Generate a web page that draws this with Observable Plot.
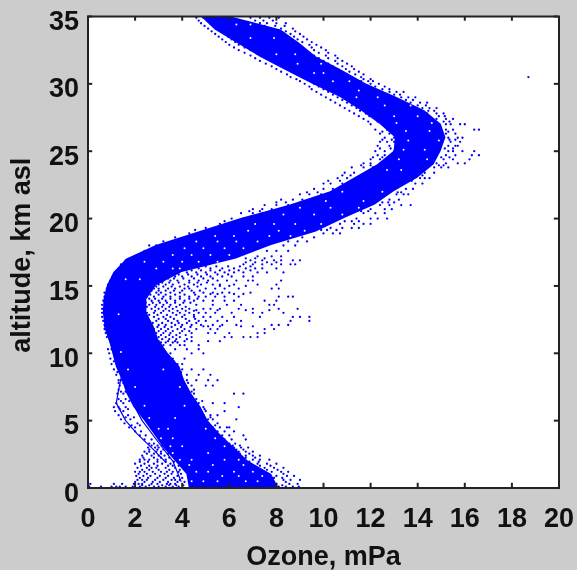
<!DOCTYPE html>
<html><head><meta charset="utf-8">
<script src="https://cdn.jsdelivr.net/npm/d3@7"></script>
<script src="https://cdn.jsdelivr.net/npm/@observablehq/plot@0.6"></script>
<style>html,body{margin:0;background:#cccccc;overflow:hidden}svg{display:block;filter:blur(0.35px)}</style>
</head><body><div id="chart"></div>
<script>
const altitudeKm = [0,1,2,3,4,5,6,7,8,9,10,11,12,13,14,15,16,17,18,19,20,21,22,23,24,25,26,27,28,29,30,31,32,33,34,35];
const denseLeft  = [4.3,4.2,3.7,3.2,2.8,2.4,1.95,1.65,1.45,1.2,1.05,0.9,0.72,0.65,0.68,0.82,1.1,1.65,2.9,4.7,6.5,8.6,10.3,11.3,12.3,13.0,13.05,12.4,11.6,10.7,9.5,8.4,7.3,6.35,5.4,4.8];
const denseRight = [8.1,7.8,6.8,6.2,5.6,5.1,4.8,4.4,4.1,3.9,3.4,3.0,2.8,2.5,2.5,2.9,4.0,6.3,7.8,9.7,10.9,12.2,13.0,14.0,14.7,15.0,15.2,15.0,14.3,13.1,11.8,10.8,9.7,9.0,8.2,6.0];

// readings of isolated points: [altitude, [ozone values at that altitude]]
const lowerRows = [
 [0.1,[0.05,0.55,1.0,1.2,1.35,1.6,1.9,2.2,2.45,2.8,3.0,3.3,3.6,3.85,8.1,8.4,8.7,8.95]],
 [0.3,[0.1,1.1,1.45,1.95,2.15,2.3,2.7,2.95,3.35,3.5,3.7,8.0,8.55,8.9]],
 [0.6,[2.1,2.3,2.5,2.85,3.2,3.55,3.7,3.9,8.3,8.6,9.0]],
 [0.9,[2.05,2.35,2.65,3.05,3.4,3.8,8.0,8.45,8.75]],
 [1.2,[2.0,2.2,2.4,2.75,3.1,3.35,3.6,3.85,7.8,8.2,8.5]],
 [1.5,[2.1,2.5,2.7,2.9,3.3,3.7,7.5,7.9,8.3]],
 [1.8,[2.0,2.4,2.8,3.15,3.5,7.2,7.6,8.0]],
 [2.1,[2.2,2.4,2.6,2.95,3.3,7.0,7.3,7.7]],
 [2.4,[2.3,2.7,3.0,3.25,6.7,7.0,7.3]],
 [2.7,[2.4,2.6,2.9,3.1,6.4,6.7,7.0]],
 [3.0,[2.55,2.85,3.0,6.2,6.5,6.8]],
 [3.3,[2.6,2.8,6.0,6.25]],
 [3.6,[2.4,2.7,5.8,6.1,6.7]],
 [3.9,[2.2,2.45,5.7,6.0,6.6]],
 [4.2,[2.0,2.25,5.5,5.8,6.2]],
 [4.5,[1.75,2.0,5.3,5.6,5.9,6.0]],
 [4.8,[1.55,2.1,5.1,5.5]],
 [5.1,[1.4,1.8,5.1,5.3,6.3]],
 [5.4,[1.3,1.7,4.9,5.2,5.5]],
 [5.7,[1.15,1.5,4.7,5.0,5.8]],
 [6.0,[1.1,1.3,1.6,4.6,4.9,6.4]],
 [6.3,[1.2,1.5,4.4,4.7,5.3,5.8]],
 [6.6,[1.3,1.6,4.3,4.6]],
 [7.0,[1.25,1.5,4.3,4.5,6.2,6.6]],
 [7.3,[1.3,1.7,4.2,4.5]],
 [7.6,[1.35,1.6,4.1,4.4,5.0,5.3]],
 [8.0,[1.4,1.3,4.0,4.2,4.6,5.1,5.5]],
 [8.4,[1.2,1.5,3.8,4.2,4.7,5.2]],
 [8.8,[1.1,1.4,3.7,4.0,4.4,4.9]],
 [9.2,[1.0,1.3,3.5,3.8,4.0]],
 [9.6,[0.95,1.2,3.3,3.6,4.1]],
 [10,[0.9,1.1,3.3,3.5,4.4,4.9]],
 [10.3,[0.85,1.0,3.2,3.7,4.2,4.7]]
];
const laceRows = [
 [0.2,[2.3,2.6,3.15,3.45,3.75,4.05,7.9,8.25]],[0.45,[2.0,2.4,2.75,3.05,3.4,3.8,4.1,7.8,8.4]],[0.75,[2.2,2.55,2.95,3.3,3.65,4.0,7.9,8.25]],
 [1.05,[2.15,2.5,2.85,3.25,3.55,3.95,7.65,8.3]],[1.35,[2.3,2.6,3.0,3.45,3.9,4.1,7.6,8.05]],[1.65,[2.25,2.6,2.95,3.4,3.6,3.85,7.3,7.75]],
 [1.95,[2.2,2.55,2.95,3.3,3.65,6.85,7.25]],[2.25,[2.35,2.8,3.1,3.45,6.7,7.1]],[2.55,[2.5,2.8,3.1,3.4,6.45,6.85]],[2.85,[2.6,2.95,3.2,6.3,6.6]],[3.15,[2.7,2.95,3.15,6.15,6.45]],
 [4.65,[1.85,2.2,5.4]],[5.25,[1.6,1.95,5.2]],[5.85,[1.35,1.7,4.95]],[6.45,[1.4,1.75,4.5,4.85]],[7.15,[1.4,1.6,4.4]],[7.8,[1.3,1.5,4.25]],[8.6,[1.25,1.55,3.95]],[9.4,[1.1,1.3,3.65]]
];
const plumeRows = [
 [10.6,[2.9,3.2,3.5,3.9,4.1,4.7]],
 [10.9,[2.8,3.0,3.4,3.7,4.1,4.4,5.1,5.6]],
 [11.2,[0.8,2.6,3.0,3.3,3.6,3.9,4.4,5.8,6.1,6.6,6.9,7.2]],
 [11.5,[0.75,2.7,2.9,3.2,3.5,3.9,4.4,5.1,5.4,6.0,7.2,7.5]],
 [11.8,[0.7,2.4,2.8,3.1,3.4,3.8,4.1,4.6,5.2,5.5,7.5,7.9]],
 [12.1,[0.7,2.5,3.0,3.3,3.7,4.0,4.4,4.8,5.3,5.7,6.3,7.8,8.1,8.5]],
 [12.4,[0.65,2.6,2.9,3.4,3.8,4.3,4.7,5.0,5.5,5.9,6.5,9.4,8.6]],
 [12.7,[0.6,2.4,2.8,3.2,3.5,4.0,4.5,4.9,5.2,5.7,6.2,7.3,8.7,9.0,9.4]],
 [13.0,[0.6,2.1,2.5,2.8,3.1,3.6,3.9,4.3,4.7,5.0,5.4,6.1,7.0,7.4,8.3]],
 [13.3,[0.6,2.3,2.7,3.0,3.3,3.6,4.0,4.3,4.9,5.2,5.6,6.4,7.0,8.1,8.9]],
 [13.6,[0.6,2.2,2.6,2.9,3.2,3.5,3.9,4.6,5.3,5.9,6.5,7.7,7.9]],
 [13.9,[0.65,2.4,2.7,3.0,3.3,3.7,4.1,4.5,4.9,5.3,5.8,6.2,7.5,8.0]],
 [14.2,[0.7,2.5,2.8,3.2,3.5,3.9,4.3,4.7,5.0,5.4,5.8,6.4,8.1,8.5,8.7]],
 [14.5,[0.7,2.5,2.9,3.1,3.5,3.9,4.5,4.9,5.3,5.7,6.0,6.9]],
 [14.8,[0.8,2.8,3.0,3.4,3.7,4.1,4.3,5.0,5.4,5.8,6.4,7.8,8.1]],
 [15.1,[0.85,2.7,3.0,3.3,3.6,4.1,4.5,4.8,5.3,5.6,6.2,7.2,8.0]],
 [15.4,[0.95,2.9,3.2,3.5,3.8,4.3,4.7,5.1,5.5,5.9,6.3,6.8,7.0,8.2]],
 [15.7,[1.05,3.3,3.7,4.0,4.4,4.8,5.2,5.7,6.1,6.6,7.0]],
 [16.0,[1.2,4.2,4.6,5.0,5.4,5.8,6.2,6.6,7.2,7.6,8.3]],
 [16.3,[1.35,1.45,4.7,5.2,5.7,6.2,6.7,7.1,7.4,8.0]],
 [16.6,[1.4,1.6,6.6,7.0,7.4,7.8,8.2,8.6,8.8]],
 [16.9,[1.6,1.8,6.9,7.4,7.9,8.2,8.7,9.0]],
 [17.2,[2.0,2.3,7.2,7.8,8.2]],
 [17.6,[2.4,2.8,3.1,7.6,8.0,8.5]],
 [18.0,[2.6,2.9,8.3,8.8]],
 [18.3,[3.2,3.7,4.1,8.5,8.9,9.3]],
 [18.6,[3.7,4.2,4.6,9.1,9.6]]
];
const plumeInfill = [
 [10.8,[2.7,3.1,3.3,3.6,3.8]],[11.05,[2.5,2.8,3.15,3.45,3.75,4.2]],[11.35,[2.45,2.85,3.1,3.45,3.75,4.15]],[11.65,[2.3,2.6,3.0,3.3,3.6,4.0,4.3]],
 [11.95,[2.3,2.65,2.95,3.25,3.55,3.95,4.35]],[12.25,[2.3,2.75,3.15,3.55,3.85,4.2,4.6]],[12.55,[2.2,2.55,3.0,3.3,3.65,4.15,4.55]],[12.85,[2.2,2.6,2.95,3.35,3.75,4.1,4.5]],
 [13.15,[2.15,2.4,2.85,3.2,3.45,3.8,4.15,4.5]],[13.45,[2.1,2.5,2.85,3.15,3.45,3.75,4.15]],[13.75,[2.2,2.45,2.75,3.05,3.35,3.7,4.05,4.35]],[14.05,[2.3,2.6,2.85,3.15,3.5,3.9,4.3,4.65]],
 [14.35,[2.4,2.65,3.0,3.3,3.7,4.1,4.55]],[14.65,[2.5,2.7,3.0,3.3,3.65,4.0,4.4,4.75]],[14.95,[2.6,2.9,3.2,3.55,3.9,4.25,4.65]],[15.25,[2.7,2.9,3.15,3.45,3.85,4.3,4.65,5.05]],
 [15.55,[2.9,3.1,3.4,3.65,4.05,4.5,4.9,5.3]],[15.85,[3.0,3.25,3.55,3.85,4.25,4.65,5.05,5.5,5.95]],[16.15,[4.4,4.8,5.2,5.6,6.0,6.4,6.9]],[16.45,[4.6,5.0,5.45,5.95,6.45,6.9]],
 [16.75,[6.7,7.1,7.6,8.0]],[17.05,[6.7,7.1,7.5]],
 [12.0,[4.9,5.1,5.6,6.5,7.0]],[13.2,[4.6,5.5,6.7,7.7]],[14.4,[5.2,5.5,6.2,6.6]],[15.0,[5.6,6.0,6.7]]
];
const upperRows = [
 [18.9,[4.3,4.8,10.0,10.4,10.7]],
 [19.3,[5.0,5.4,5.9,10.3,10.8,11.2,11.5]],
 [19.6,[5.6,6.1,6.5,10.7,11.3,11.7,12.0]],
 [20.0,[6.1,6.6,7.0,11.4,12.0,12.3,12.7]],
 [20.4,[6.5,7.0,7.4,11.7,12.2,12.6]],
 [20.7,[7.0,7.4,7.8,12.0,12.6,12.9]],
 [21.0,[7.5,8.0,8.5,12.4,12.8,13.3,13.7]],
 [21.4,[8.2,8.7,9.1,12.8,13.2]],
 [21.8,[9.0,9.4,9.9,13.1,13.4,13.6]],
 [22.2,[9.6,10.0,10.4,10.9,13.5,13.8]],
 [22.6,[10.0,10.3,10.8,11.3,13.9,14.2]],
 [23.0,[10.6,11.0,11.5,14.1,14.5,14.3]],
 [23.4,[10.9,11.3,11.9,14.3,14.7]],
 [23.8,[11.2,11.7,12.1,14.7,15.0,15.3]],
 [24.1,[11.7,12.0,12.4,14.8,15.2,15.7,16.0]],
 [24.4,[12.0,12.4,12.7,15.1,15.5,16.2]],
 [24.7,[12.3,12.6,12.9,15.2,15.6,16.6,16.3]],
 [25.0,[12.2,12.6,13.0,15.3,15.5,16.4,15.9]],
 [25.4,[12.3,12.8,13.1,15.3,15.7,15.6]],
 [25.7,[12.4,12.7,13.0,15.4,15.8]],
 [26.0,[12.6,13.0,15.3,15.7,15.9]],
 [26.3,[12.4,12.8,15.2,15.6]],
 [26.6,[12.2,12.7,15.2,15.5,16.4,16.6]],
 [27.0,[12.0,12.5,14.9,15.4,15.2,16.0,15.8]],
 [27.4,[11.7,12.2,14.8,15.2,15.5]],
 [27.8,[11.3,11.8,14.4,14.8,15.1]],
 [28.2,[10.9,11.4,14.2,14.5,14.8]],
 [28.6,[10.5,11.0,13.7,14.1,14.4]],
 [29.0,[10.1,10.6,13.3,13.6,13.9]],
 [29.4,[9.7,10.2,12.8,13.1,13.4]],
 [29.8,[9.4,9.8,11.9,12.2,12.6]],
 [30.2,[9.0,9.5,11.6,11.9,12.1]],
 [30.5,[8.6,9.1,11.2,11.6,18.7]],
 [30.9,[8.2,8.7,10.7,11.1,11.5]],
 [31.3,[7.8,8.2,10.4,10.8,11.2]],
 [31.7,[7.3,7.8,10.0,10.5,10.8]],
 [32.1,[6.9,7.4,9.6,10.1,10.5]],
 [32.5,[6.4,6.9,9.2,9.6,10.1]],
 [32.9,[6.0,6.4,8.9,9.4,9.7]],
 [33.3,[5.7,6.1,8.5,8.9,9.3]],
 [33.7,[5.4,5.8,8.1,8.6,9.0]],
 [34.1,[5.1,5.5,7.7,8.2,8.7]],
 [34.5,[4.8,5.2,7.3,7.6,8.0,8.4]],
 [34.9,[4.6,4.9,6.9,7.3,7.7,8.1]]
];
const upperFringe = [
 [19.15,[4.55,5.1,9.9,10.15,10.55]],[19.8,[5.8,6.3,10.9,11.2,11.5]],[20.55,[6.85,7.3,11.3,11.6,11.9]],[21.2,[8.0,8.4,12.5,12.75,13.0]],[21.95,[9.3,9.75,13.15,13.3]],[22.8,[10.2,10.7,13.4,13.75]],[23.2,[10.8,11.15,14.2]],
 [23.95,[11.6,12.0,14.9,15.1]],[24.55,[12.1,12.5,15.0,15.35]],[25.2,[12.4,12.85,15.15,15.5]],[25.85,[12.5,12.9,15.35,15.6]],[26.45,[12.5,12.9,15.3]],[27.2,[11.9,12.3,15.1,15.35]],[27.6,[11.5,11.95,14.9,15.15]],[28.0,[11.1,11.55,14.45,14.7]],[28.4,[10.7,11.2,14.0,14.35]],
 [28.8,[10.3,10.8,13.5,13.8]],[29.2,[9.9,10.4,13.0,13.25]],[29.6,[9.5,10.0,12.5,12.8]],[30.0,[9.2,9.6,12.0,12.35]],[30.35,[8.85,9.3,11.7,12.0]],[30.7,[8.45,8.9,11.0,11.35,11.7]],[31.1,[8.0,8.45,10.6,10.95,11.3]],[31.5,[7.55,8.0,10.2,10.6,11.0]],
 [31.9,[7.1,7.55,9.8,10.2,10.6]],[32.3,[6.65,7.15,9.4,9.8,10.2]],[32.7,[6.2,6.65,9.1,9.5,9.9]],[33.1,[5.85,6.25,8.7,9.1,9.5]],[33.5,[5.55,5.95,8.3,8.75,9.15]],[33.9,[5.25,5.65,7.9,8.4,8.8]],[34.3,[4.95,5.35,7.5,7.95,8.35]],[34.7,[4.7,5.05,7.1,7.45,7.85]]
];
// white flecks left inside the dense band
const gapRows = [
 [0.5,[4.4,4.9,5.5,6.7,7.2]],[0.9,[5.7,6.4,7.4]],[1.2,[4.6,5.1,6.2,7.0]],[1.7,[4.3,5.3,6.6]],[2.1,[3.9,4.4,5.8,6.4]],[2.6,[3.6,5.1]],[3.1,[3.5,4.0,5.8]],[3.7,[3.1,3.6,5.4]],[4.4,[3.0,3.4,5.0]],[5.2,[2.6,3.7]],[6.1,[2.4,4.1]],[7.5,[2.0,3.9]],[8.8,[1.7,3.2]],
 [10.1,[1.4]],[12.9,[1.3]],[15.5,[1.6,2.2]],[16.3,[3.6,3.9,2.9]],[16.8,[3.2,4.0,4.7,5.5,2.4]],[17.3,[3.6,4.4,5.2,6.0]],[17.8,[4.1,4.9,5.8,6.6]],[18.3,[4.6,5.5,6.3,7.2]],[18.7,[5.4,6.2,7.7,8.6]],[19.1,[6.8,8.1,9.2]],[19.6,[7.1,7.9,8.8,9.9]],[20.3,[8.3,9.6,10.8]],[20.8,[9.0,10.3,11.5]],[21.3,[10.1,11.7]],[22.0,[10.8,12.5]],
 [23.6,[12.7,13.3]],[24.4,[13.2,14.4]],[25.1,[13.4,14.3]],[25.8,[13.6,14.9]],[26.5,[13.5,14.5]],[27.1,[13.1,14.6]],[27.6,[13.0,14.0]],[28.4,[12.6,13.7]],[29.0,[11.4,12.3]],[29.5,[11.5,12.6]],[30.2,[10.4,11.1]],[30.8,[9.6,10.0]],[31.5,[8.9,9.9]],[32.2,[8.0,8.8]],[33.4,[6.9,7.9]],[34.4,[6.3,6.9]]
];
// single soundings that stand apart from the band at low altitude
const traceOzone    = [0.7,0.9,1.15,1.45,1.3,1.2,1.6,2.1,2.75,3.3];
const traceAltitude = [12.0,11.0,9.8,8.5,7.3,6.3,5.0,4.0,2.9,1.9];
const trace2Ozone    = [0.95,1.25,1.6,1.9,2.3,2.9,3.6,3.95];
const trace2Altitude = [11.8,10.0,8.5,6.3,5.0,3.6,2.0,0.5];

const xTickValues = [0,2,4,6,8,10,12,14,16,18,20];
const yTickValues = [0,5,10,15,20,25,30,35];
const xTitle = "Ozone, mPa";
const yTitle = "altitude, km asl";

const spread = rows => rows.flatMap(([alt, xs]) => xs.map(x => ({x, alt})));
const band = altitudeKm.map((alt, i) => ({alt, left: denseLeft[i], right: denseRight[i]}));
const points = [lowerRows, laceRows, plumeRows, plumeInfill, upperRows, upperFringe].flatMap(spread);
const gaps = spread(gapRows);
const trace1 = traceOzone.map((x, i) => ({x, alt: traceAltitude[i]}));
const trace2 = trace2Ozone.map((x, i) => ({x, alt: trace2Altitude[i]}));

const blue = "#0000ff", ink = "#222222", font = {fontSize: 27, fontWeight: 700, fill: "#111"};
const chart = Plot.plot({
  width: 577, height: 570,
  marginLeft: 87.5, marginRight: 18.5, marginTop: 16, marginBottom: 82.5,
  style: {background: "#cccccc", fontFamily: "'Liberation Sans', Arial, sans-serif"},
  x: {domain: [0, 20], label: null},
  y: {domain: [0, 35], label: null},
  marks: [
    Plot.frame({fill: "white", stroke: "none"}),
    Plot.areaX(band, {y: "alt", x1: "left", x2: "right", fill: blue}),
    Plot.dot(gaps, {x: "x", y: "alt", r: 1, fill: "white"}),
    Plot.dot(points, {x: "x", y: "alt", r: 1.15, fill: blue}),
    Plot.line(trace1, {x: "x", y: "alt", stroke: blue, strokeWidth: 1.2}),
    Plot.line(trace2, {x: "x", y: "alt", stroke: blue, strokeWidth: 1.2}),
    Plot.frame({stroke: ink, strokeWidth: 2}),
    Plot.ruleX(xTickValues, {x: d => d, y1: 0, y2: 0.35, stroke: ink, strokeWidth: 2}),
    Plot.ruleX(xTickValues, {x: d => d, y1: 34.65, y2: 35, stroke: ink, strokeWidth: 2}),
    Plot.ruleY(yTickValues, {y: d => d, x1: 0, x2: 0.2, stroke: ink, strokeWidth: 2}),
    Plot.ruleY(yTickValues, {y: d => d, x1: 19.8, x2: 20, stroke: ink, strokeWidth: 2}),
    Plot.axisX({ticks: xTickValues, tickSize: 0, tickPadding: 20, ...font, label: null}),
    Plot.axisY({ticks: yTickValues, tickSize: 0, tickPadding: 9, dy: 5, ...font, label: null}),
    Plot.text([xTitle], {frameAnchor: "bottom", dy: 77, text: d => d, ...font, style: {letterSpacing: "2px"}}),
    Plot.text([yTitle], {frameAnchor: "left", dx: -67, dy: 3, rotate: -90, textAnchor: "middle", text: d => d, ...font, style: {letterSpacing: "0.9px"}})
  ]
});
document.getElementById("chart").append(chart);
</script></body></html>
